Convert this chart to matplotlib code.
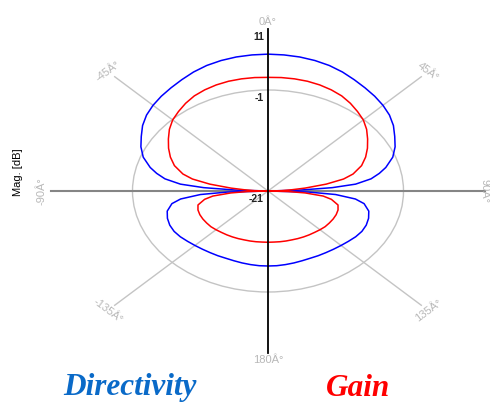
import numpy as np
import matplotlib.pyplot as plt
from matplotlib.patches import Ellipse

# magnitude range of the polar grid (dB)
r_min, r_max = -21, 11
ring_levels = [11, -1, -21]

# pattern cuts, angle in degrees (0 = up, clockwise)
angles = [-180, -175, -170, -165, -160, -155, -150, -145, -140, -135, -130, -125, -120,
          -115, -110, -105, -100, -97, -94, -92, -90, -88, -86, -84, -81, -78, -75, -70,
          -65, -60, -55, -50, -45, -40, -35, -30, -25, -20, -15, -10, -5,
          0, 5, 10, 15, 20, 25, 30, 35, 40, 45, 50, 55, 60, 65, 70, 75, 78, 81, 84,
          86, 88, 90, 92, 94, 97, 100, 105, 110, 115, 120, 125, 130, 135, 140, 145,
          150, 155, 160, 165, 170, 175, 180]

directivity = [-6.15, -6.15, -6.2, -6.25, -6.3, -6.3, -6.2, -6.1, -5.95, -5.75, -5.5, -5.2, -5.0,
               -5.0, -5.2, -5.6, -6.6, -8.0, -11.0, -15.0, -21, -16.5, -11.5, -8.0, -5.6, -4.2, -3.0, -1.4,
               -0.3, 0.6, 1.6, 2.4, 3.0, 3.5, 3.95, 4.45, 5.0, 5.45, 5.75, 5.95, 6.05,
               6.1, 6.05, 5.95, 5.75, 5.45, 5.0, 4.45, 3.95, 3.5, 3.0, 2.4, 1.6, 0.6, -0.3, -1.4, -3.0, -4.2, -5.6, -8.0,
               -11.5, -16.5, -21, -15.0, -11.0, -8.0, -6.6, -5.6, -5.2, -5.0, -5.0, -5.2, -5.5, -5.75, -5.95, -6.1,
               -6.2, -6.3, -6.3, -6.25, -6.2, -6.15, -6.15]

gain = [-10.85, -10.85, -10.8, -10.75, -10.7, -10.6, -10.5, -10.4, -10.3, -10.15, -10.0, -9.95, -9.9,
        -9.9, -10.0, -10.3, -11.5, -12.8, -15.5, -18.0, -21, -19.0, -17.5, -15.5, -12.3, -9.6, -8.0, -6.3,
        -5.1, -4.05, -3.05, -2.0, -1.1, -0.45, 0.2, 0.75, 1.1, 1.35, 1.5, 1.55, 1.55,
        1.5, 1.55, 1.55, 1.5, 1.35, 1.1, 0.75, 0.2, -0.45, -1.1, -2.0, -3.05, -4.05, -5.1, -6.3, -8.0, -9.6, -12.3, -15.5,
        -17.5, -19.0, -21, -18.0, -15.5, -12.8, -11.5, -10.3, -10.0, -9.9, -9.9, -9.95, -10.0, -10.15, -10.3, -10.4,
        -10.5, -10.6, -10.7, -10.75, -10.8, -10.85, -10.85]

angle_ticks = [0, 45, 90, 135, 180, -135, -90, -45]
angle_labels = ['0\u00c2\u00b0', '45\u00c2\u00b0', '90\u00c2\u00b0', '135\u00c2\u00b0',
                '180\u00c2\u00b0', '-135\u00c2\u00b0', '-90\u00c2\u00b0', '-45\u00c2\u00b0']


def to_xy(ang, mag):
    r = np.clip((np.asarray(mag, float) - r_min) / (r_max - r_min), 0, None)
    t = np.radians(ang)
    return r * np.sin(t), r * np.cos(t)


W, H = 490, 404
cx, cy = 268, 191          # centre in pixels
sx, sy = 216.8, 161.6      # pixels per unit radius (x, y)

fig = plt.figure(figsize=(W / 100, H / 100), dpi=100)
ax = fig.add_axes([0, 0, 1, 1])
ax.set_xlim(-cx / sx, (W - cx) / sx)
ax.set_ylim((cy - H) / sy, cy / sy)
ax.axis('off')

grey = '#c4c4c4'
label_grey = '#b8b8b8'

# radial spokes on the diagonals
for a in [45, 135, -135, -45]:
    x, y = to_xy(a, r_max)
    ax.plot([0, x], [0, y], color=grey, lw=1.0, zorder=1)

# inner magnitude ring
rr = (ring_levels[1] - r_min) / (r_max - r_min)
ax.add_patch(Ellipse((0, 0), 2 * rr, 2 * rr, fill=False, ec=grey, lw=1.0, zorder=1))

# horizontal axis
ax.plot([-1, 1], [0, 0], color='#858585', lw=1.5, zorder=2)

bx, by = to_xy(angles, directivity)
gx, gy = to_xy(angles, gain)
ax.plot(bx, by, color='#0000ff', lw=1.1, zorder=3)
ax.plot(gx, gy, color='#ff0000', lw=1.1, zorder=4)

# vertical axis
ax.plot([0, 0], [-1, 1], color='black', lw=1.3, zorder=5)

# magnitude labels
for lev in ring_levels:
    r = (lev - r_min) / (r_max - r_min)
    ax.annotate(str(lev), (0, r), xytext=(-3, -2), textcoords='offset points',
                ha='right', va='top', fontsize=7.5, fontweight='bold',
                color='#222222', family='Liberation Sans', zorder=6)

# angle labels, rotated along the outer ring (90 deg pulled in to stay on canvas)
for a, lab in zip(angle_ticks, angle_labels):
    t = np.radians(a)
    k = 0.997 if a == 90 else 1.045
    x, y = k * np.sin(t), k * np.cos(t)
    rot = np.degrees(np.arctan2(-sy * np.sin(t), sx * np.cos(t)))
    if abs(a) == 135 or a == 180:
        rot += 180
    rot = (rot + 180) % 360 - 180
    ax.text(x, y, lab, rotation=rot, rotation_mode='anchor', ha='center', va='center',
            fontsize=8, color=label_grey, family='Liberation Sans', zorder=6)

fig.text(18 / W, 1 - 172 / H, 'Mag. [dB]', rotation=90, ha='center', va='center',
         fontsize=8, family='Liberation Sans')

fig.text(130 / W, 1 - 388 / H, 'Directivity', ha='center', va='center', fontsize=22.5,
         fontweight='bold', style='italic', family='Liberation Serif', color='#0a6ac8')
fig.text(358 / W, 1 - 388 / H, 'Gain', ha='center', va='center', fontsize=22.5,
         fontweight='bold', style='italic', family='Liberation Serif', color='#ff0000')

fig.savefig('out.png', dpi=100)
